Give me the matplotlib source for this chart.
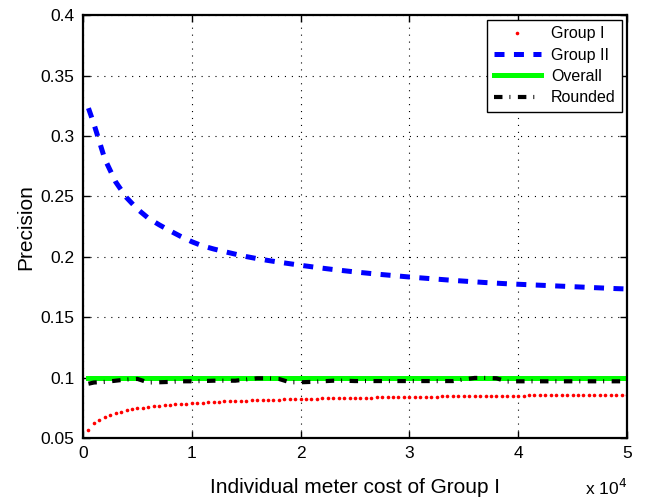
import matplotlib
matplotlib.use("Agg")
import matplotlib.pyplot as plt
from matplotlib.ticker import FixedLocator, FixedFormatter

plt.rcParams['font.family'] = ['Liberation Sans', 'DejaVu Sans']
plt.rcParams['lines.scale_dashes'] = False

# ---- data ----
x_group1 = [500 * (i + 1) for i in range(100)]
group1 = [
    0.0570, 0.0622, 0.0652, 0.0674, 0.0691, 0.0706, 0.0718, 0.0729, 0.0738, 0.0746,
    0.0752, 0.0758, 0.0763, 0.0768, 0.0772, 0.0776, 0.0779, 0.0782, 0.0785, 0.0788,
    0.0791, 0.0794, 0.0797, 0.0799, 0.0801, 0.0803, 0.0805, 0.0807, 0.0809, 0.0811,
    0.0812, 0.0814, 0.0815, 0.0817, 0.0818, 0.0819, 0.0821, 0.0822, 0.0823, 0.0824,
    0.0825, 0.0826, 0.0827, 0.0828, 0.0829, 0.0830, 0.0831, 0.0832, 0.0833, 0.0834,
    0.0834, 0.0835, 0.0836, 0.0837, 0.0837, 0.0838, 0.0839, 0.0840, 0.0840, 0.0841,
    0.0842, 0.0842, 0.0843, 0.0843, 0.0844, 0.0845, 0.0845, 0.0846, 0.0846, 0.0847,
    0.0847, 0.0848, 0.0848, 0.0849, 0.0849, 0.0850, 0.0850, 0.0851, 0.0851, 0.0852,
    0.0852, 0.0853, 0.0853, 0.0853, 0.0854, 0.0854, 0.0855, 0.0855, 0.0856, 0.0856,
    0.0856, 0.0857, 0.0857, 0.0858, 0.0858, 0.0858, 0.0859, 0.0859, 0.0860, 0.0860,
]

x_lines = [500] + [1000 * k for k in range(1, 51)]
group2 = [
    0.3230, 0.3100, 0.2810, 0.2620, 0.2490, 0.2395, 0.2320, 0.2265, 0.2215, 0.2168,
    0.2125, 0.2090, 0.2065, 0.2043, 0.2022, 0.2002, 0.1985, 0.1970, 0.1956, 0.1943,
    0.1930, 0.1918, 0.1906, 0.1895, 0.1885, 0.1875, 0.1866, 0.1857, 0.1849, 0.1841,
    0.1833, 0.1826, 0.1819, 0.1812, 0.1805, 0.1799, 0.1793, 0.1787, 0.1782, 0.1777,
    0.1773, 0.1769, 0.1765, 0.1761, 0.1757, 0.1753, 0.1749, 0.1745, 0.1741, 0.1737,
    0.1734,
]
overall = [0.1] * 51
rounded = [
    0.0950, 0.0960, 0.0965, 0.0975, 0.0985, 0.0990, 0.0960, 0.0962, 0.0965, 0.0970,
    0.0970, 0.0972, 0.0975, 0.0975, 0.0975, 0.0985, 0.0995, 0.0995, 0.0990, 0.0962,
    0.0962, 0.0965, 0.0970, 0.0975, 0.0975, 0.0972, 0.0972, 0.0972, 0.0972, 0.0972,
    0.0972, 0.0972, 0.0972, 0.0972, 0.0972, 0.0985, 0.0998, 0.0998, 0.0995, 0.0968,
    0.0970, 0.0970, 0.0970, 0.0970, 0.0970, 0.0970, 0.0970, 0.0970, 0.0970, 0.0970,
    0.0970,
]

x_ticks = [0, 10000, 20000, 30000, 40000, 50000]
x_tick_labels = ['0', '1', '2', '3', '4', '5']
y_ticks = [0.05, 0.1, 0.15, 0.2, 0.25, 0.3, 0.35, 0.4]
y_tick_labels = ['0.05', '0.1', '0.15', '0.2', '0.25', '0.3', '0.35', '0.4']

# ---- figure ----
fig = plt.figure(figsize=(6.46, 5.03), dpi=100)
ax = fig.add_axes([0.1285, 0.129, 0.842, 0.841])

ax.plot(x_group1, group1, linestyle='none', marker='o', markersize=2.6,
        markeredgewidth=0, color='#ff0000', label='Group I')
ax.plot(x_lines, group2, color='#0000ff', linewidth=3.6,
        dashes=(7.2, 6.8), label='Group II')
ax.plot(x_lines, overall, color='#00ff00', linewidth=3.6, label='Overall')
ax.plot(x_lines, rounded, color='black', linewidth=3.0,
        dashes=(6.1, 5.0, 0.7, 5.4), label='Rounded')

ax.set_xlim(0, 50000)
ax.set_ylim(0.05, 0.4)
ax.xaxis.set_major_locator(FixedLocator(x_ticks))
ax.xaxis.set_major_formatter(FixedFormatter(x_tick_labels))
ax.yaxis.set_major_locator(FixedLocator(y_ticks))
ax.yaxis.set_major_formatter(FixedFormatter(y_tick_labels))

ax.grid(True, color='black', linestyle=(0, (0.8, 4.2)), linewidth=0.8)
ax.tick_params(direction='in', top=True, right=True, length=5, width=1,
               labelsize=12.5, pad=6)
for s in ax.spines.values():
    s.set_linewidth(1.6)

ax.set_xlabel('Individual meter cost of Group I', fontsize=15, labelpad=12)
ax.set_ylabel('Precision', fontsize=15)
ax.text(1.0, -0.117, r'x 10$^{4}$', transform=ax.transAxes, ha='right',
        va='center', fontsize=12.5)

leg = ax.legend(loc='upper right', fontsize=11.5, frameon=True, fancybox=False,
                framealpha=1, edgecolor='black', handlelength=3.0,
                handletextpad=0.6, borderaxespad=0.3, labelspacing=0.4,
                markerscale=1.0)
leg.get_frame().set_linewidth(1.0)

fig.savefig('out.png', dpi=100)
